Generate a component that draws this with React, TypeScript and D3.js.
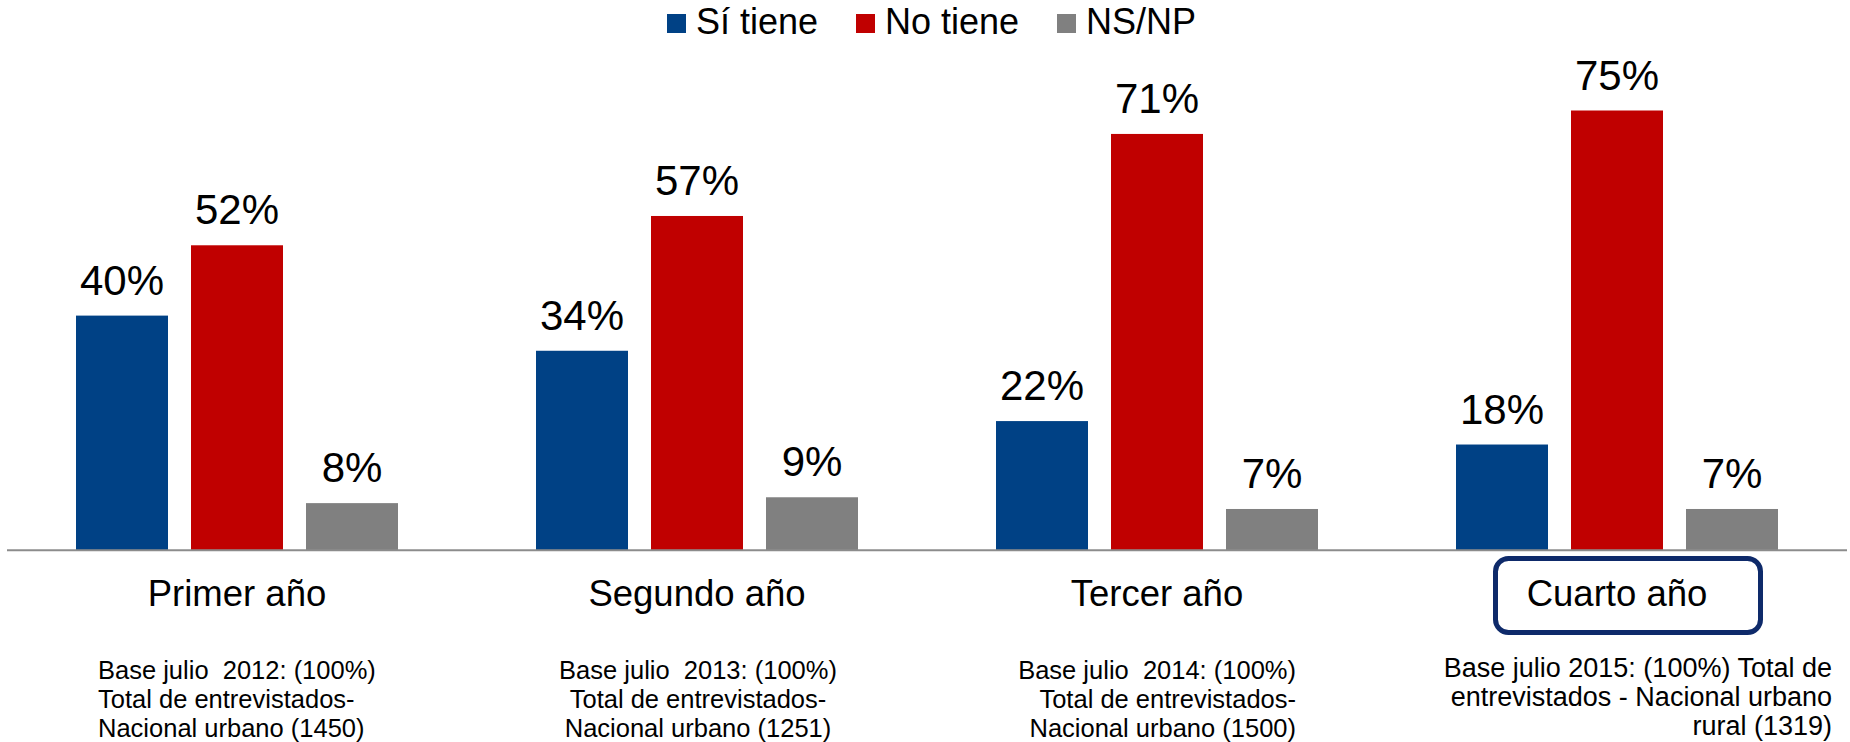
import React from "react";
import * as d3 from "d3";

const categories = ["Primer año", "Segundo año", "Tercer año", "Cuarto año"];
const seriesNames = ["Sí tiene", "No tiene", "NS/NP"];
const siTiene = [40, 34, 22, 18];
const noTiene = [52, 57, 71, 75];
const nsnp = [8, 9, 7, 7];
const seriesColors = ["#004185", "#C00000", "#808080"];
const notes = [
  ["Base julio  2012: (100%)", "Total de entrevistados-", "Nacional urbano (1450)"],
  ["Base julio  2013: (100%)", "Total de entrevistados-", "Nacional urbano (1251)"],
  ["Base julio  2014: (100%)", "Total de entrevistados-", "Nacional urbano (1500)"],
  ["Base julio 2015: (100%) Total de", "entrevistados - Nacional urbano", "rural (1319)"],
];
const highlighted = "Cuarto año";

const W = 1850;
const H = 742;
const FONT = "'Liberation Sans', Arial, Helvetica, sans-serif";
const baseline = 550;

// layout for notes
const noteLayout = [
  { anchor: "start", dx: -139, y0: 679, size: 25.5 },
  { anchor: "middle", dx: 1, y0: 679, size: 25.5 },
  { anchor: "end", dx: 139, y0: 679, size: 25.5 },
  { anchor: "end", dx: 215, y0: 677, size: 27 },
];
const legendX = [667, 856, 1057];

export default function App() {
  const x0 = d3.scaleBand<string>().domain(categories).range([7, 1847]).padding(0);
  const x1 = d3
    .scaleBand<string>()
    .domain(seriesNames)
    .range([0, x0.bandwidth()])
    .paddingInner(0.2)
    .paddingOuter(0.6);
  const y = d3.scaleLinear().domain([0, 100]).range([baseline, baseline - 586]);
  const series = [siTiene, noTiene, nsnp];

  return (
    <svg
      width={W}
      height={H}
      style={{ position: "absolute", left: 0, top: 0, background: "#fff" }}
      fontFamily={FONT}
    >
      <rect x={0} y={0} width={W} height={H} fill="#fff" />
      {/* legend */}
      <g>
        {seriesNames.map((s, i) => (
          <g key={s}>
            <rect x={legendX[i]} y={14} width={19} height={19} fill={seriesColors[i]} />
            <text x={legendX[i] + 29} y={34} fontSize={36} fill="#000">
              {s}
            </text>
          </g>
        ))}
      </g>
      {/* bars */}
      {categories.map((c, ci) => (
        <g key={c} transform={`translate(${x0(c)},0)`}>
          {seriesNames.map((s, si) => {
            const v = series[si][ci];
            const bx = x1(s)!;
            return (
              <g key={s}>
                <rect
                  x={bx}
                  y={y(v)}
                  width={x1.bandwidth()}
                  height={baseline - y(v)}
                  fill={seriesColors[si]}
                />
                <text
                  x={bx + x1.bandwidth() / 2}
                  y={y(v) - 21}
                  fontSize={42}
                  textAnchor="middle"
                  fill="#000"
                >
                  {v}%
                </text>
              </g>
            );
          })}
        </g>
      ))}
      <line x1={7} x2={1847} y1={550.3} y2={550.3} stroke="#8C8C8C" strokeWidth={2} />
      {/* category labels */}
      {categories.map((c, ci) => {
        const cx = x0(c)! + x0.bandwidth() / 2;
        const lay = noteLayout[ci];
        return (
          <g key={c}>
            {c === highlighted && (
              <rect
                x={cx - 121.5}
                y={558.5}
                width={265}
                height={74}
                rx={13}
                fill="none"
                stroke="#0E2A6A"
                strokeWidth={5}
              />
            )}
            <text x={cx} y={606} fontSize={36.5} textAnchor="middle" fill="#000">
              {c}
            </text>
            {notes[ci].map((line, li) => (
              <text
                key={li}
                x={cx + lay.dx}
                y={lay.y0 + li * 29}
                fontSize={lay.size}
                textAnchor={lay.anchor as any}
                fill="#000"
                style={{ whiteSpace: "pre" }}
              >
                {line}
              </text>
            ))}
          </g>
        );
      })}
    </svg>
  );
}
